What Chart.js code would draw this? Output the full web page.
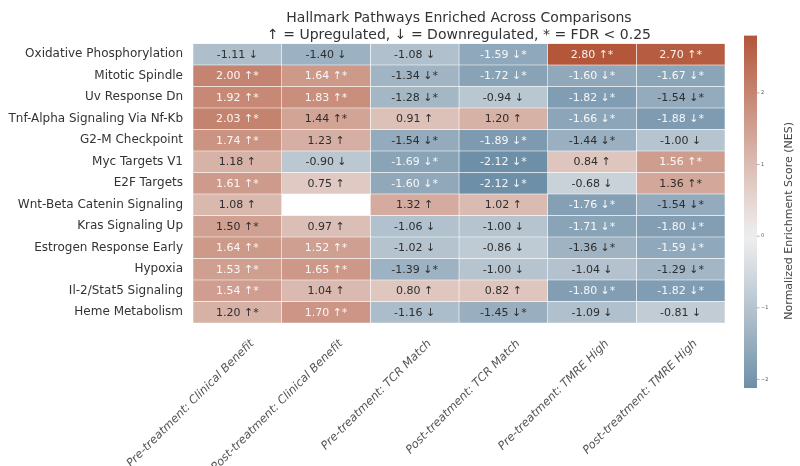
<!DOCTYPE html>
<html><head><meta charset="utf-8">
<script src="https://cdn.jsdelivr.net/npm/chart.js@4/dist/chart.umd.min.js"></script>
<style>html,body{margin:0;padding:0;background:#fff}#wrap{width:800px;height:466px}</style>
</head><body><div id="wrap"><canvas id="c" width="800" height="466"></canvas></div>
<script>
// ---- data ----
const pathways = [
  'Oxidative Phosphorylation', 'Mitotic Spindle', 'Uv Response Dn',
  'Tnf-Alpha Signaling Via Nf-Kb', 'G2-M Checkpoint', 'Myc Targets V1',
  'E2F Targets', 'Wnt-Beta Catenin Signaling', 'Kras Signaling Up',
  'Estrogen Response Early', 'Hypoxia', 'Il-2/Stat5 Signaling', 'Heme Metabolism'
];
const comparisons = [
  'Pre-treatment: Clinical Benefit', 'Post-treatment: Clinical Benefit',
  'Pre-treatment: TCR Match', 'Post-treatment: TCR Match',
  'Pre-treatment: TMRE High', 'Post-treatment: TMRE High'
];
const nesPreClinical  = [-1.11, 2.00, 1.92, 2.03, 1.74, 1.18, 1.61, 1.08, 1.50, 1.64, 1.53, 1.54, 1.20];
const nesPostClinical = [-1.40, 1.64, 1.83, 1.44, 1.23, -0.90, 0.75, null, 0.97, 1.52, 1.65, 1.04, 1.70];
const nesPreTCR       = [-1.08, -1.34, -1.28, 0.91, -1.54, -1.69, -1.60, 1.32, -1.06, -1.02, -1.39, 0.80, -1.16];
const nesPostTCR      = [-1.59, -1.72, -0.94, 1.20, -1.89, -2.12, -2.12, 1.02, -1.00, -0.86, -1.00, 0.82, -1.45];
const nesPreTMRE      = [2.80, -1.60, -1.82, -1.66, -1.44, 0.84, -0.68, -1.76, -1.71, -1.36, -1.04, -1.80, -1.09];
const nesPostTMRE     = [2.70, -1.67, -1.54, -1.88, -1.00, 1.56, 1.36, -1.54, -1.80, -1.59, -1.29, -1.82, -0.81];
// FDR < 0.25 flags (1 = significant)
const sigPreClinical  = [0,1,1,1,1,0,1,0,1,1,1,1,1];
const sigPostClinical = [0,1,1,1,0,0,0,0,0,1,1,0,1];
const sigPreTCR       = [0,1,1,0,1,1,1,0,0,0,1,0,0];
const sigPostTCR      = [1,1,0,0,1,1,1,0,0,0,0,0,1];
const sigPreTMRE      = [1,1,1,1,1,0,0,1,1,1,0,1,0];
const sigPostTMRE     = [1,1,1,1,0,1,1,1,1,1,1,1,0];
const colorbarTicks = [2, 1, 0, -1, -2];

const nes = [nesPreClinical, nesPostClinical, nesPreTCR, nesPostTCR, nesPreTMRE, nesPostTMRE];
const sig = [sigPreClinical, sigPostClinical, sigPreTCR, sigPostTCR, sigPreTMRE, sigPostTMRE];

const allVals = nes.flat().filter(v => v !== null);
const VMIN = Math.min(...allVals), VMAX = Math.max(...allVals);

// ---- colours ----
const NEG = [110, 143, 168], MID = [238, 238, 238], POS = [179, 86, 58];
function colorFor(v) {
  if (v === null) return 'rgba(0,0,0,0)';
  let t = v >= 0 ? v / VMAX : v / VMIN;
  t = Math.pow(t, 1.08);
  const end = v >= 0 ? POS : NEG;
  const c = MID.map((m, i) => Math.round(m + (end[i] - m) * t));
  return `rgb(${c[0]},${c[1]},${c[2]})`;
}
function textColorFor(v) {
  return (v > 1.51 || v < -1.56) ? 'rgba(255,255,255,0.92)' : '#2e2e2e';
}

const FONT = "'DejaVu Sans', sans-serif";

const cellText = {
  id: 'cellText',
  afterDatasetsDraw(chart) {
    const ctx = chart.ctx;
    ctx.save();
    ctx.font = `11px ${FONT}`;
    ctx.textAlign = 'center';
    ctx.textBaseline = 'middle';
    nes.forEach((col, c) => {
      const meta = chart.getDatasetMeta(c);
      meta.data.forEach((bar, r) => {
        const v = col[r];
        if (v === null) return;
        const p = bar.getProps(['x', 'base', 'y'], true);
        const txt = v.toFixed(2) + ' ' + (v > 0 ? '\u2191' : '\u2193') + (sig[c][r] ? '*' : '');
        ctx.fillStyle = textColorFor(v);
        ctx.fillText(txt, (p.x + p.base) / 2, p.y + 0.5);
      });
    });
    ctx.restore();
  }
};

const colorBar = {
  id: 'colorBar',
  afterDraw(chart) {
    const ctx = chart.ctx, a = chart.chartArea;
    const x0 = a.right + 19, w = 13;
    const top = a.top - 8, bottom = a.bottom + 65;
    const yFor = v => top + (VMAX - v) / (VMAX - VMIN) * (bottom - top);
    const g = ctx.createLinearGradient(0, top, 0, bottom);
    const n = 40;
    for (let i = 0; i <= n; i++) {
      const v = VMAX - (VMAX - VMIN) * i / n;
      g.addColorStop(i / n, colorFor(v));
    }
    ctx.save();
    ctx.fillStyle = g;
    ctx.fillRect(x0, top, w, bottom - top);
    ctx.strokeStyle = '#777';
    ctx.fillStyle = '#555';
    ctx.lineWidth = 0.6;
    ctx.font = `5px ${FONT}`;
    ctx.textAlign = 'left';
    ctx.textBaseline = 'middle';
    colorbarTicks.forEach(t => {
      const y = yFor(t);
      ctx.beginPath(); ctx.moveTo(x0 + w, y); ctx.lineTo(x0 + w + 2.5, y); ctx.stroke();
      ctx.fillText(t < 0 ? '\u2212' + Math.abs(t) : String(t), x0 + w + 4, y);
    });
    ctx.translate(x0 + w + 32, (top + bottom) / 2 + 9);
    ctx.rotate(-Math.PI / 2);
    ctx.textAlign = 'center';
    ctx.font = `11px ${FONT}`;
    ctx.fillStyle = '#444';
    ctx.fillText('Normalized Enrichment Score (NES)', 0, 0);
    ctx.restore();
  }
};

new Chart(document.getElementById('c'), {
  type: 'bar',
  data: {
    labels: pathways,
    datasets: comparisons.map((name, c) => ({
      label: name,
      data: nes[c].map(v => v === null ? null : [c, c + 1]),
      backgroundColor: nes[c].map(colorFor),
      borderColor: 'rgba(255,255,255,0.9)',
      borderWidth: 0.6,
      borderSkipped: false,
      barPercentage: 1,
      categoryPercentage: 1,
      grouped: false
    }))
  },
  options: {
    indexAxis: 'y',
    responsive: false,
    animation: false,
    layout: { padding: { left: 0, right: 75, top: 0, bottom: 0 } },
    plugins: {
      legend: { display: false },
      tooltip: { enabled: false },
      title: {
        display: true,
        fullSize: false,
        text: ['Hallmark Pathways Enriched Across Comparisons',
               '\u2191 = Upregulated, \u2193 = Downregulated, * = FDR < 0.25'],
        color: '#333',
        font: { family: FONT, size: 14, weight: 'normal', lineHeight: 1.2 },
        padding: { top: 10, bottom: 0 }
      }
    },
    scales: {
      y: {
        type: 'category',
        offset: true,
        grid: { display: false, drawTicks: false },
        border: { display: false },
        ticks: { color: '#333', font: { family: FONT, size: 12 }, padding: 10, autoSkip: false },
        afterFit(s) { s.width = 193; }
      },
      x: { type: 'linear', min: 0, max: 6, display: false },
      xl: {
        type: 'category',
        labels: comparisons,
        position: 'bottom',
        offset: true,
        grid: { display: false },
        border: { display: false },
        ticks: {
          color: '#555', font: { family: FONT, size: 11.5, style: 'italic' },
          minRotation: 45, maxRotation: 45, autoSkip: false,
          labelOffset: 15, padding: 6
        },
        afterFit(s) { s.height = 143; }
      }
    }
  },
  plugins: [cellText, colorBar]
});
</script></body></html>
